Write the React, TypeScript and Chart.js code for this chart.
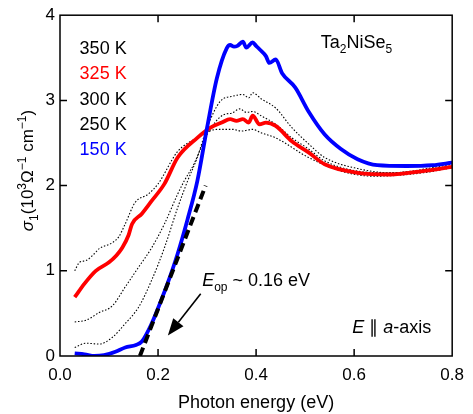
import React, { useEffect, useRef } from "react";
import { Chart, registerables } from "chart.js";

Chart.register(...registerables);

const FONT = "'Liberation Sans', Arial, Helvetica, sans-serif";

// axis ticks
const xTicks = [0, 0.2, 0.4, 0.6, 0.8];
const yTicks = [0, 1, 2, 3, 4];

// legend
const legendLabels = ["350 K", "325 K", "300 K", "250 K", "150 K"];
const legendColors = ["#000000", "#ff0000", "#000000", "#000000", "#0000ff"];

// 150 K (blue)
const x150 = [0.03, 0.05, 0.07, 0.09, 0.113, 0.133, 0.155, 0.167, 0.187, 0.2, 0.22, 0.24, 0.26, 0.28, 0.3, 0.32, 0.34, 0.347, 0.355, 0.362, 0.373, 0.38, 0.393, 0.4, 0.407, 0.42, 0.427, 0.44, 0.453, 0.48, 0.507, 0.54, 0.573, 0.607, 0.647, 0.707, 0.76, 0.8];
const y150 = [0.03, 0.02, 0.0, 0.01, 0.05, 0.1, 0.13, 0.17, 0.38, 0.56, 0.86, 1.2, 1.6, 2.05, 2.68, 3.26, 3.61, 3.65, 3.63, 3.64, 3.69, 3.62, 3.68, 3.64, 3.6, 3.52, 3.44, 3.48, 3.32, 3.15, 2.87, 2.6, 2.43, 2.31, 2.24, 2.23, 2.24, 2.27];

// 325 K (red)
const x325 = [0.03, 0.05, 0.073, 0.1, 0.115, 0.127, 0.14, 0.147, 0.167, 0.187, 0.213, 0.24, 0.28, 0.307, 0.33, 0.347, 0.36, 0.373, 0.385, 0.393, 0.407, 0.42, 0.44, 0.473, 0.507, 0.54, 0.607, 0.673, 0.74, 0.8];
const y325 = [0.69, 0.85, 1.0, 1.1, 1.18, 1.27, 1.42, 1.55, 1.67, 1.82, 2.02, 2.33, 2.56, 2.68, 2.74, 2.78, 2.76, 2.78, 2.74, 2.82, 2.72, 2.74, 2.7, 2.52, 2.39, 2.25, 2.15, 2.13, 2.17, 2.22];

// 350 K (dotted)
const x350 = [0.03, 0.04, 0.053, 0.07, 0.08, 0.107, 0.12, 0.133, 0.153, 0.18, 0.2, 0.24, 0.28, 0.32, 0.353, 0.37, 0.393, 0.41, 0.44, 0.507, 0.573, 0.64, 0.74, 0.8];
const y350 = [1.0, 1.1, 1.12, 1.2, 1.26, 1.33, 1.4, 1.55, 1.8, 1.9, 2.02, 2.4, 2.56, 2.66, 2.66, 2.64, 2.66, 2.62, 2.56, 2.33, 2.17, 2.11, 2.15, 2.21];

// 300 K (dotted)
const x300 = [0.03, 0.053, 0.08, 0.107, 0.133, 0.16, 0.187, 0.213, 0.24, 0.253, 0.273, 0.3, 0.333, 0.35, 0.367, 0.38, 0.393, 0.41, 0.44, 0.473, 0.507, 0.54, 0.607, 0.673, 0.8];
const y300 = [0.4, 0.42, 0.51, 0.59, 0.81, 1.04, 1.27, 1.55, 1.9, 2.05, 2.25, 2.6, 2.83, 2.85, 2.9, 2.86, 2.87, 2.82, 2.72, 2.56, 2.43, 2.29, 2.17, 2.15, 2.23];

// 250 K (dotted)
const x250 = [0.03, 0.053, 0.08, 0.107, 0.133, 0.16, 0.187, 0.213, 0.24, 0.26, 0.28, 0.3, 0.327, 0.353, 0.373, 0.385, 0.393, 0.41, 0.44, 0.473, 0.507, 0.54, 0.607, 0.673, 0.8];
const y250 = [0.1, 0.15, 0.14, 0.22, 0.38, 0.57, 0.89, 1.27, 1.74, 2.05, 2.33, 2.68, 2.99, 3.05, 3.07, 3.03, 3.09, 3.02, 2.91, 2.68, 2.49, 2.33, 2.2, 2.15, 2.25];

// linear extrapolation of the gap edge
const xFit = [0.163, 0.297];
const yFit = [0.0, 2.0];

// annotation anchors (data coordinates)
const arrowTail = [0.287, 0.73];
const arrowTip = [0.22, 0.24];

const zip = (xs: number[], ys: number[]) => xs.map((x, i) => ({ x, y: ys[i] }));

type Seg = { t: string; it?: boolean; sub?: boolean; sup?: boolean };

function drawRich(ctx: CanvasRenderingContext2D, segs: Seg[], x: number, y: number, size: number, color: string, align: "left" | "center") {
  const fontOf = (s: Seg) => `${s.it ? "italic " : ""}${s.sub || s.sup ? Math.round(size * 0.68) : size}px ${FONT}`;
  let w = 0;
  for (const s of segs) {
    ctx.font = fontOf(s);
    w += ctx.measureText(s.t).width;
  }
  let cx = align === "center" ? x - w / 2 : x;
  ctx.textAlign = "left";
  ctx.textBaseline = "alphabetic";
  ctx.fillStyle = color;
  for (const s of segs) {
    ctx.font = fontOf(s);
    const dy = s.sub ? size * 0.28 : s.sup ? -size * 0.42 : 0;
    ctx.fillText(s.t, cx, y + dy);
    cx += ctx.measureText(s.t).width;
  }
}

const overlay = {
  id: "overlay",
  afterDatasetsDraw(chart: any) {
    const { ctx, chartArea: a, scales } = chart;
    const xs = scales.x;
    const ys = scales.y;
    ctx.save();
    ctx.strokeStyle = "#000";
    ctx.lineWidth = 1.5;
    ctx.strokeRect(a.left, a.top, a.right - a.left, a.bottom - a.top);
    const tl = 7;
    ctx.beginPath();
    for (const v of xTicks.slice(1, -1)) {
      const px = xs.getPixelForValue(v);
      ctx.moveTo(px, a.bottom);
      ctx.lineTo(px, a.bottom - tl);
      ctx.moveTo(px, a.top);
      ctx.lineTo(px, a.top + tl);
    }
    for (const v of yTicks.slice(1, -1)) {
      const py = ys.getPixelForValue(v);
      ctx.moveTo(a.left, py);
      ctx.lineTo(a.left + tl, py);
      ctx.moveTo(a.right, py);
      ctx.lineTo(a.right - tl, py);
    }
    ctx.stroke();

    // arrow
    const tx = xs.getPixelForValue(arrowTail[0]);
    const ty = ys.getPixelForValue(arrowTail[1]);
    const hx = xs.getPixelForValue(arrowTip[0]);
    const hy = ys.getPixelForValue(arrowTip[1]);
    const ang = Math.atan2(hy - ty, hx - tx);
    const hl = 17, hw = 6.5;
    const bx = hx - hl * Math.cos(ang);
    const by = hy - hl * Math.sin(ang);
    ctx.lineWidth = 1.6;
    ctx.beginPath();
    ctx.moveTo(tx, ty);
    ctx.lineTo(bx, by);
    ctx.stroke();
    ctx.fillStyle = "#000";
    ctx.beginPath();
    ctx.moveTo(hx, hy);
    ctx.lineTo(bx + hw * Math.sin(ang), by - hw * Math.cos(ang));
    ctx.lineTo(bx - hw * Math.sin(ang), by + hw * Math.cos(ang));
    ctx.closePath();
    ctx.fill();

    // legend texts
    ctx.font = `18px ${FONT}`;
    ctx.textAlign = "left";
    ctx.textBaseline = "alphabetic";
    legendLabels.forEach((l, i) => {
      ctx.fillStyle = legendColors[i];
      ctx.fillText(l, xs.getPixelForValue(0.04), ys.getPixelForValue(3.545 - i * 0.297));
    });

    // annotations
    drawRich(ctx, [{ t: "Ta" }, { t: "2", sub: true }, { t: "NiSe" }, { t: "5", sub: true }], xs.getPixelForValue(0.532), ys.getPixelForValue(3.61), 18, "#000", "left");
    drawRich(ctx, [{ t: "E", it: true }, { t: "op", sub: true }, { t: " ~ 0.16 eV" }], xs.getPixelForValue(0.29), ys.getPixelForValue(0.823), 18, "#000", "left");
    drawRich(ctx, [{ t: "E", it: true }, { t: " \u2225 " }, { t: "a", it: true }, { t: "-axis" }], xs.getPixelForValue(0.596), ys.getPixelForValue(0.27), 18, "#000", "left");

    // axis titles
    drawRich(ctx, [{ t: "Photon energy (eV)" }], (a.left + a.right) / 2, 408, 18, "#000", "center");
    ctx.translate(33, 170.5);
    ctx.rotate(-Math.PI / 2);
    drawRich(ctx, [
      { t: "\u03c3", it: true }, { t: "1", sub: true }, { t: "(10" }, { t: "3", sup: true }, { t: "\u03a9" },
      { t: "\u22121", sup: true }, { t: " cm" }, { t: "\u22121", sup: true }, { t: ")" },
    ], 0, 0, 17, "#000", "center");
    ctx.restore();
  },
};

export default function App() {
  const ref = useRef<HTMLCanvasElement | null>(null);
  useEffect(() => {
    if (!ref.current) return;
    Chart.defaults.font.family = FONT;
    const dotted = (data: any) => ({
      data, borderColor: "#000", borderWidth: 1.1, borderDash: [1.5, 1.8], pointRadius: 0, cubicInterpolationMode: "monotone" as const, fill: false,
    });
    const chart = new Chart(ref.current, {
      type: "line",
      data: {
        datasets: [
          { data: zip(xFit, yFit), borderColor: "#000", borderWidth: 4, borderDash: [9, 5], pointRadius: 0, fill: false },
          { data: zip(x150, y150), borderColor: "#0000ff", borderWidth: 3.8, pointRadius: 0, cubicInterpolationMode: "monotone", fill: false },
          { data: zip(x325, y325), borderColor: "#ff0000", borderWidth: 3.8, pointRadius: 0, cubicInterpolationMode: "monotone", fill: false },
          dotted(zip(x350, y350)),
          dotted(zip(x300, y300)),
          dotted(zip(x250, y250)),
        ],
      },
      options: {
        animation: false,
        responsive: false,
        layout: { padding: { top: 13, right: 13, left: 0, bottom: 0 } },
        plugins: { legend: { display: false }, tooltip: { enabled: false } },
        scales: {
          x: {
            type: "linear", min: 0, max: 0.8,
            afterBuildTicks: (s: any) => { s.ticks = xTicks.map((v) => ({ value: v })); },
            afterFit: (s: any) => { s.height = 58; },
            ticks: { color: "#000", font: { size: 17 }, padding: 9, maxRotation: 0, callback: (v: any) => Number(v).toFixed(1) },
            grid: { display: false, drawTicks: false },
            border: { display: false },
          },
          y: {
            type: "linear", min: 0, max: 4,
            afterBuildTicks: (s: any) => { s.ticks = yTicks.map((v) => ({ value: v })); },
            afterFit: (s: any) => { s.width = 60; },
            ticks: { color: "#000", font: { size: 17 }, padding: 5, callback: (v: any) => String(v) },
            grid: { display: false, drawTicks: false },
            border: { display: false },
          },
        },
      },
      plugins: [overlay],
    });
    return () => chart.destroy();
  }, []);
  return (
    <div style={{ position: "absolute", left: 0, top: 0, width: 473, height: 414, background: "#fff" }}>
      <canvas ref={ref} width={473} height={414} style={{ display: "block" }} />
    </div>
  );
}
